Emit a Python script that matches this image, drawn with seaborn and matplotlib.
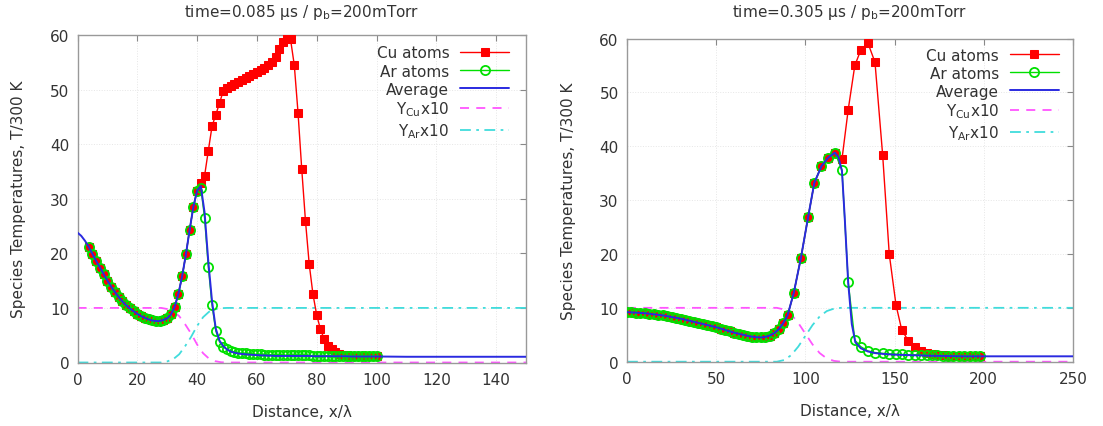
import numpy as np
import pandas as pd
import matplotlib
matplotlib.use("Agg")
import matplotlib.pyplot as plt
import seaborn as sns

# ---------------- LEFT PANEL DATA (time = 0.085 us) ----------------
L_x = [3.75, 5.0, 6.25, 7.5, 8.75, 10.0, 11.25, 12.5, 13.75, 15.0, 16.25, 17.5, 18.75, 20.0,
       21.25, 22.5, 23.75, 25.0, 26.25, 27.5, 28.75, 30.0, 31.25, 32.5, 33.75, 35.0, 36.25,
       37.5, 38.75, 40.0,
       41.25, 42.5, 43.75, 45.0, 46.25, 47.5, 48.75, 50.0, 51.25, 52.5, 53.75, 55.0, 56.25,
       57.5, 58.75, 60.0, 61.25, 62.5, 63.75, 65.0, 66.25, 67.5, 68.75, 70.0, 71.25, 72.5,
       73.75, 75.0, 76.25, 77.5, 78.75, 80.0, 81.25, 82.5, 83.75, 85.0, 86.25, 87.5, 88.75,
       90.0, 91.25, 92.5, 93.75, 95.0, 96.25, 97.5, 98.75, 100.0]
L_common = [21.2, 19.9, 18.6, 17.4, 16.2, 15.0, 13.9, 12.9, 12.0, 11.2, 10.5, 9.9, 9.4, 8.9,
            8.5, 8.2, 7.9, 7.7, 7.6, 7.6, 7.8, 8.1, 8.8, 10.2, 12.6, 15.8, 19.8, 24.3, 28.5, 31.5]
L_cu_tail = [32.8, 34.2, 38.8, 43.3, 45.4, 47.5, 49.8, 50.3, 50.7, 51.0,
             51.4, 51.7, 52.1, 52.5, 52.9, 53.2, 53.6, 54.0, 54.5, 55.0,
             56.0, 57.5, 58.7, 59.6, 59.2, 54.5, 45.8, 35.4, 25.9, 18.0,
             12.5, 8.7, 6.1, 4.3, 3.1, 2.4, 1.9, 1.6, 1.4, 1.3,
             1.25, 1.2, 1.2, 1.15, 1.15, 1.1, 1.1, 1.1]
L_ar_tail = [32.0, 26.5, 17.5, 10.5, 5.8, 3.8, 2.9, 2.4, 2.1, 1.9,
             1.8, 1.7, 1.65, 1.6, 1.55, 1.5, 1.5, 1.45, 1.45, 1.4,
             1.4, 1.4, 1.35, 1.35, 1.35, 1.3, 1.3, 1.3, 1.3, 1.3,
             1.25, 1.25, 1.25, 1.25, 1.25, 1.25, 1.25, 1.25, 1.25, 1.25,
             1.2, 1.2, 1.2, 1.2, 1.2, 1.2, 1.2, 1.2]
L_cu = L_common + L_cu_tail
L_ar = L_common + L_ar_tail
L_avg_x = [0.0, 1.25, 2.5] + L_x + [110.0, 120.0, 130.0, 140.0, 150.0]
L_avg = ([23.8, 23.2, 22.3] + L_common +
         [32.3, 27.5, 18.5, 11.2, 6.2, 4.0, 3.0, 2.4, 2.0, 1.8,
          1.65, 1.55, 1.5, 1.45, 1.4, 1.35, 1.3, 1.3, 1.25, 1.25,
          1.2, 1.2, 1.2, 1.2, 1.2, 1.2, 1.2, 1.2, 1.2, 1.2,
          1.15, 1.15, 1.15, 1.15, 1.15, 1.15, 1.15, 1.15, 1.15, 1.15,
          1.1, 1.1, 1.1, 1.1, 1.1, 1.1, 1.1, 1.1] +
         [1.05, 1.05, 1.05, 1.05, 1.05])
L_y_x = [0, 28, 30, 32, 34, 36, 38, 40, 42, 44, 46, 48, 50, 150]
L_ycu = [10, 10, 9.8, 9.4, 8.5, 7.0, 5.3, 3.3, 1.7, 0.7, 0.25, 0.05, 0, 0]
L_yar = [0, 0, 0.2, 0.6, 1.5, 3.0, 4.7, 6.7, 8.3, 9.3, 9.75, 9.95, 10, 10]

# ---------------- RIGHT PANEL DATA (time = 0.305 us) ----------------
R_x = [0.0, 2.5, 5.0, 7.5, 10.0, 12.5, 15.0, 17.5, 20.0, 22.5, 25.0, 27.5, 30.0, 32.5, 35.0,
       37.5, 40.0, 42.5, 45.0, 47.5, 50.0, 52.5, 55.0, 57.5, 60.0, 62.5, 65.0, 67.5, 70.0,
       72.5, 75.0, 77.5, 80.0, 82.5, 85.0, 87.5, 90.0,
       93.5, 97.5, 101.5, 105.0, 109.0, 112.8, 116.5, 120.5, 124.0, 127.7, 131.0, 135.0,
       139.0, 143.3, 147.0, 150.8, 154.0, 157.7, 161.5, 165.0, 168.0, 171.0, 174.0, 177.0,
       180.0, 183.0, 186.0, 189.0, 192.0, 195.0, 198.0]
R_common = [9.2, 9.15, 9.1, 9.05, 9.0, 8.9, 8.8, 8.7, 8.6, 8.45, 8.3, 8.15, 8.0, 7.8, 7.6,
            7.4, 7.2, 7.0, 6.8, 6.6, 6.4, 6.15, 5.9, 5.65, 5.4, 5.2, 5.0, 4.8, 4.65, 4.55,
            4.5, 4.6, 4.85, 5.3, 6.0, 7.1, 8.6,
            12.8, 19.3, 26.8, 33.2, 36.3, 37.9, 38.8]
R_cu_tail = [37.6, 46.8, 55.0, 57.8, 59.2, 55.6, 38.4, 20.0, 10.5, 5.9, 3.9, 2.7, 2.0, 1.6,
             1.4, 1.3, 1.2, 1.15, 1.1, 1.1, 1.05, 1.05, 1.0, 1.0]
R_ar_tail = [35.6, 14.8, 4.0, 2.8, 2.0, 1.7, 1.55, 1.45, 1.4, 1.35, 1.3, 1.3, 1.25, 1.25,
             1.2, 1.2, 1.15, 1.15, 1.1, 1.1, 1.1, 1.05, 1.05, 1.05]
R_cu = R_common + R_cu_tail
R_ar = R_common + R_ar_tail
R_avg_x = R_x[:44] + [118.5, 120.5, 122.0, 124.0, 126.0, 128.0, 131.0, 135.0, 139.0, 143.3,
                      150.0, 160.0, 170.0, 180.0, 190.0, 200.0, 225.0, 250.0]
R_avg = R_common + [38.0, 35.4, 27.0, 14.6, 7.0, 3.6, 2.5, 1.9, 1.6, 1.45,
                    1.3, 1.2, 1.1, 1.05, 1.0, 1.0, 1.0, 1.0]
R_y_x = [0, 84, 88, 92, 96, 100, 104, 108, 112, 116, 120, 250]
R_ycu = [10, 10, 9.7, 8.8, 7.2, 5.2, 3.2, 1.6, 0.6, 0.15, 0, 0]
R_yar = [0, 0, 0.3, 1.2, 2.8, 4.8, 6.8, 8.4, 9.4, 9.85, 10, 10]

titles = ["time=0.085 μs / p$_\\mathrm{b}$=200mTorr", "time=0.305 μs / p$_\\mathrm{b}$=200mTorr"]
labels = ["Cu atoms", "Ar atoms", "Average", "Y$_\\mathrm{Cu}$x10", "Y$_\\mathrm{Ar}$x10"]

RED, GREEN, BLUE, MAG, CYAN = "#ff0000", "#00e000", "#2a2ae0", "#ff55ff", "#40dcdc"
FS = 11
TXT = "#333333"

sns.set_theme(style="white")
plt.rcParams["font.family"] = ["DejaVu Sans"]

fig = plt.figure(figsize=(11.03, 4.27), dpi=100)
W, H = 1103, 427
axL = fig.add_axes([77.5 / W, 1 - 363.5 / H, (526 - 77.5) / W, (363.5 - 36) / H])
axR = fig.add_axes([627 / W, 1 - 362.7 / H, (1073 - 627) / W, (362.7 - 39.5) / H])

panels = [
    (axL, L_x, L_cu, L_ar, L_avg_x, L_avg, L_y_x, L_ycu, L_yar, 150, np.arange(0, 141, 20), (0.962, 0.968)),
    (axR, R_x, R_cu, R_ar, R_avg_x, R_avg, R_y_x, R_ycu, R_yar, 250, np.arange(0, 251, 50), (0.968, 0.972)),
]

for i, (ax, x, cu, ar, ax_, avg, yx, ycu, yar, xmax, xt, anchor) in enumerate(panels):
    sns.lineplot(x=yx, y=ycu, ax=ax, color=MAG, lw=1.3, linestyle=(0, (5, 4)), label=labels[3], zorder=2)
    sns.lineplot(x=yx, y=yar, ax=ax, color=CYAN, lw=1.3, linestyle=(0, (6, 3, 1.5, 3)), label=labels[4], zorder=2)
    sns.lineplot(x=x, y=cu, ax=ax, color=RED, lw=1.0, marker="s", markersize=5.4,
                 markeredgecolor=RED, label=labels[0], zorder=3)
    sns.lineplot(x=x, y=ar, ax=ax, color=GREEN, lw=1.0, marker="o", markersize=6.6,
                 markerfacecolor="none", markeredgecolor=GREEN, markeredgewidth=1.3,
                 label=labels[1], zorder=4)
    sns.lineplot(x=ax_, y=avg, ax=ax, color=BLUE, lw=1.4, label=labels[2], zorder=5)

    ax.set_xlim(0, xmax)
    ax.set_ylim(0, 60)
    ax.set_xticks(xt)
    ax.set_yticks(np.arange(0, 61, 10))
    ax.grid(True, color="#e6e6e6", lw=0.7, linestyle=":")
    ax.tick_params(direction="in", top=True, right=True, length=4, width=0.8,
                   color="#888888", labelsize=FS, labelcolor=TXT, pad=6)
    ax.tick_params(axis="x", pad=7)
    for s in ax.spines.values():
        s.set_color("#999999")
        s.set_linewidth(1.0)
    ax.set_xlabel("Distance, x/λ", fontsize=FS, color=TXT, labelpad=12)
    ax.set_ylabel("Species Temperatures, T/300 K", fontsize=FS, color=TXT, labelpad=17)

    h, l = ax.get_legend_handles_labels()
    order = [l.index(k) for k in labels]
    leg = ax.legend([h[k] for k in order], [l[k] for k in order], loc="upper right",
                    bbox_to_anchor=anchor, frameon=False, markerfirst=False,
                    fontsize=FS, handlelength=3.2, handletextpad=0.7, labelspacing=0.2,
                    borderpad=0, borderaxespad=0)
    for t in leg.get_texts():
        t.set_color(TXT)

fig.text(302 / W, 1 - 12 / H, titles[0], ha="center", va="center", fontsize=FS, color=TXT)
fig.text(850 / W, 1 - 13 / H, titles[1], ha="center", va="center", fontsize=FS, color=TXT)

fig.savefig("out.png", dpi=100)
